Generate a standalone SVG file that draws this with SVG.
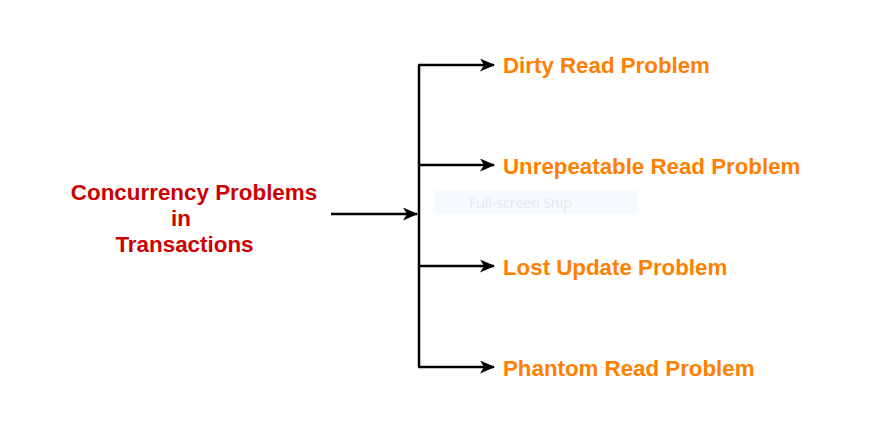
<svg xmlns="http://www.w3.org/2000/svg" width="893" height="428" viewBox="0 0 893 428">
<defs>
<marker id="ah" markerWidth="15" markerHeight="13" refX="14" refY="6.5" orient="auto" markerUnits="userSpaceOnUse">
<path d="M0,0 L15,6.5 L0,13 L4,6.5 Z" fill="#000"/>
</marker>
<style>
.src{font-family:"Liberation Sans",Arial,sans-serif;font-weight:bold;font-size:22.4px;fill:#CC0000;text-anchor:middle}
.lbl{font-family:"Liberation Sans",Arial,sans-serif;font-weight:bold;font-size:22.3px;fill:#FF8000}
.c{fill:none;stroke:#000;stroke-width:2.5}
</style>
</defs>
<rect width="893" height="428" fill="#fff"/>
<g id="snip">
<rect x="435" y="190" width="202" height="24" fill="#F5FAFE"/>
<text x="469" y="208" font-family="'Open Sans','Noto Sans',sans-serif" font-size="14" fill="#E6E9EC">Full-screen Snip</text>
</g>
<g id="connectors">
<path class="c" d="M331,214 H417" marker-end="url(#ah)"/>
<path class="c" d="M419,65 V367"/>
<path class="c" d="M418,65 H494" marker-end="url(#ah)"/>
<path class="c" d="M419,165 H494" marker-end="url(#ah)"/>
<path class="c" d="M419,266 H494" marker-end="url(#ah)"/>
<path class="c" d="M418,367 H494" marker-end="url(#ah)"/>
</g>
<g id="source">
<text class="src" x="194" y="200">Concurrency Problems</text>
<text class="src" x="181" y="226">in</text>
<text class="src" x="184.5" y="252">Transactions</text>
</g>
<g id="dirty"><text class="lbl" x="503" y="73">Dirty Read Problem</text></g>
<g id="unrepeatable"><text class="lbl" x="503" y="174">Unrepeatable Read Problem</text></g>
<g id="lost"><text class="lbl" x="503" y="275">Lost Update Problem</text></g>
<g id="phantom"><text class="lbl" x="503" y="376">Phantom Read Problem</text></g>
</svg>
